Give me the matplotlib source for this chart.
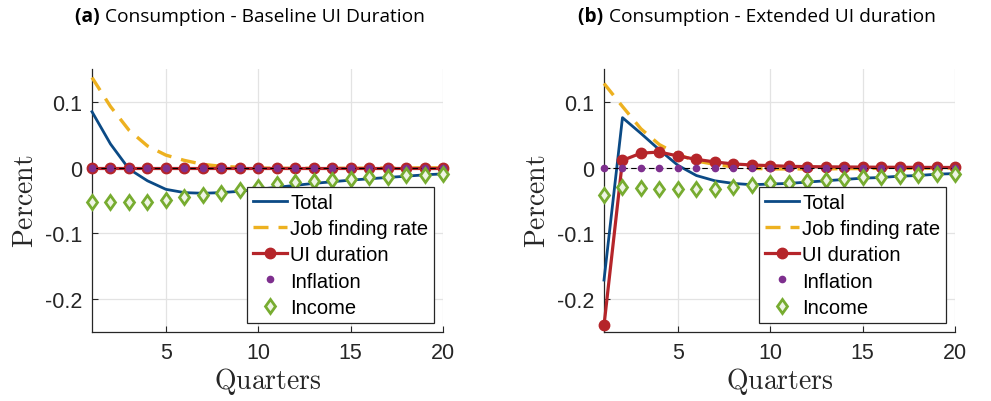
import numpy as np
import matplotlib
matplotlib.use("Agg")
import matplotlib.pyplot as plt
from matplotlib.markers import MarkerStyle
from matplotlib.transforms import Affine2D

# Quarters after the shock
quarters = list(range(1, 21))

# (a) Baseline UI duration: consumption decomposition (percent)
total_a = [0.085, 0.036, -0.002, -0.020, -0.033, -0.038, -0.039, -0.038, -0.036, -0.033,
           -0.030, -0.027, -0.024, -0.0215, -0.019, -0.017, -0.015, -0.013, -0.011, -0.0095]
jfr_a = [0.137, 0.093, 0.057, 0.033, 0.019, 0.011, 0.005, 0.002, 0.0005, -0.0005,
         -0.001, -0.001, -0.001, -0.001, -0.001, -0.0008, -0.0006, -0.0005, -0.0004, -0.0003]
ui_a = [0.0] * 20
infl_a = [0.0] * 20
income_a = [-0.052, -0.053, -0.053, -0.052, -0.049, -0.045, -0.042, -0.038, -0.034, -0.029,
            -0.025, -0.022, -0.021, -0.019, -0.017, -0.015, -0.0137, -0.0116, -0.0106, -0.009]

# (b) Extended UI duration
total_b = [-0.171, 0.076, 0.052, 0.027, 0.0035, -0.012, -0.020, -0.024, -0.026, -0.025,
           -0.024, -0.022, -0.020, -0.018, -0.016, -0.015, -0.013, -0.012, -0.010, -0.009]
jfr_b = [0.128, 0.093, 0.059, 0.035, 0.020, 0.010, 0.005, 0.001, -0.001, -0.002,
         -0.002, -0.002, -0.002, -0.0015, -0.0015, -0.001, -0.001, -0.0008, -0.0006, -0.0005]
ui_b = [-0.240, 0.011, 0.022, 0.0237, 0.0177, 0.0126, 0.0086, 0.0056, 0.004, 0.003,
        0.002, 0.0015, 0.0012, 0.001, 0.0008, 0.0006, 0.0005, 0.0004, 0.0003, 0.0002]
infl_b = [0.0] * 20
income_b = [-0.041, -0.030, -0.031, -0.032, -0.033, -0.033, -0.032, -0.030, -0.027, -0.024,
            -0.023, -0.021, -0.019, -0.017, -0.015, -0.014, -0.0126, -0.011, -0.0096, -0.009]

series_labels = ["Total", "Job finding rate", "UI duration", "Inflation", "Income"]
panel_tags = ["(a)", "(b)"]
panel_titles = ["Consumption - Baseline UI Duration", "Consumption - Extended UI duration"]
yticks = [-0.2, -0.1, 0, 0.1]
ytick_labels = ["-0.2", "-0.1", "0", "0.1"]
xticks = [5, 10, 15, 20]

plt.rcParams["mathtext.fontset"] = "cm"

C_BLUE = "#0b4a85"
C_YEL = "#edb120"
C_RED = "#b5252a"
C_PUR = "#7e2f8e"
C_GRN = "#77ac30"
C_AX = "#262626"

# Slightly narrowed diamond for the income markers
diamond = MarkerStyle("D", transform=Affine2D().scale(0.72, 1.0))

fig = plt.figure(figsize=(9.91, 4.02), dpi=100)
W, H = 991, 402

def px_axes(x0, x1, ytop, ybot):
    return fig.add_axes([x0 / W, 1 - ybot / H, (x1 - x0) / W, (ybot - ytop) / H])

ax_a = px_axes(92, 443, 70, 333)
ax_b = px_axes(604, 955, 70, 333)

panels = [
    (ax_a, total_a, jfr_a, ui_a, infl_a, income_a),
    (ax_b, total_b, jfr_b, ui_b, infl_b, income_b),
]

tick_font = dict(family="Liberation Sans", size=15.5)

for ax, tot, jfr, ui, infl, inc in panels:
    h_tot, = ax.plot(quarters, tot, color=C_BLUE, lw=2.0, clip_on=False, zorder=3)
    h_jfr, = ax.plot(quarters, jfr, color=C_YEL, lw=2.4, ls=(0, (4.5, 3.0)),
                     clip_on=False, zorder=3)
    h_ui, = ax.plot(quarters, ui, color=C_RED, lw=2.3, marker="o", ms=7.5,
                    mfc=C_RED, mec=C_RED, clip_on=False, zorder=4)
    ax.axhline(0, color="black", lw=0.8, ls=(0, (5, 3)), zorder=5)
    h_inf, = ax.plot(quarters, infl, ls="none", marker="o", ms=4.5, color=C_PUR,
                     clip_on=False, zorder=6)
    h_inc, = ax.plot(quarters, inc, ls="none", marker=diamond, ms=7.0, mfc="#eef4e4",
                     mec=C_GRN, mew=2.0, clip_on=False, zorder=6)

    ax.set_xlim(1, 20)
    ax.set_ylim(-0.25, 0.15)
    ax.set_xticks(xticks)
    ax.set_yticks(yticks)
    ax.set_yticklabels(ytick_labels)
    for lab in ax.get_xticklabels() + ax.get_yticklabels():
        lab.set_fontfamily(tick_font["family"])
        lab.set_fontsize(tick_font["size"])
        lab.set_color(C_AX)
    ax.tick_params(direction="in", length=4, width=0.8, color=C_AX, pad=7)
    ax.grid(True, color="#e3e3e3", lw=0.9)
    ax.set_axisbelow(True)
    for side in ("top", "right"):
        ax.spines[side].set_visible(False)
    for side in ("left", "bottom"):
        ax.spines[side].set_color(C_AX)
        ax.spines[side].set_linewidth(0.9)
    ax.set_xlabel(r"$\mathrm{Quarters}$", fontsize=20, color=C_AX, labelpad=2)
    ax.set_ylabel(r"$\mathrm{Percent}$", fontsize=20, color=C_AX, labelpad=4)

    leg = ax.legend([h_tot, h_jfr, h_ui, h_inf, h_inc], series_labels,
                    loc="lower right", bbox_to_anchor=(0.975, 0.035),
                    prop=dict(family="Liberation Sans", size=14.5),
                    frameon=True, fancybox=False, edgecolor="#262626",
                    framealpha=1, handlelength=1.7, handletextpad=0.15,
                    labelspacing=0.36, borderpad=0.3, borderaxespad=0)
    leg.get_frame().set_linewidth(0.9)
    leg.set_zorder(10)

# Panel titles: bold tag followed by regular text, centred as one line
fig.canvas.draw()
renderer = fig.canvas.get_renderer()
title_font = "Open Sans"
title_size = 13.8
for cx, tag, title in zip([250, 757], panel_tags, panel_titles):
    t1 = fig.text(0, 0, tag + " ", fontsize=title_size, fontweight="bold",
                  family=title_font, va="center")
    t2 = fig.text(0, 0, title, fontsize=title_size, family=title_font, va="center")
    w1 = t1.get_window_extent(renderer).width
    w2 = t2.get_window_extent(renderer).width
    x_start = cx - (w1 + w2) / 2
    y = 1 - 17 / H
    t1.set_position((x_start / W, y))
    t2.set_position(((x_start + w1) / W, y))

fig.savefig("out.png", dpi=100)
